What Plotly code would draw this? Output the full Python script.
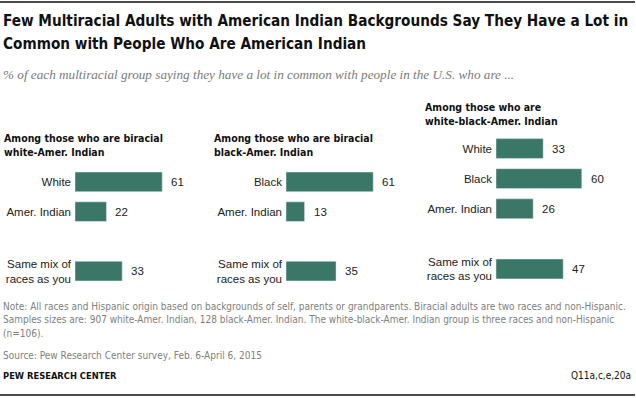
import plotly.graph_objects as go

# ---- data ----
panel_titles = [
    ["Among those who are biracial", "white-Amer. Indian"],
    ["Among those who are biracial", "black-Amer. Indian"],
    ["Among those who are", "white-black-Amer. Indian"],
]
cats_1 = ["White", "Amer. Indian", "Same mix of<br>races as you"]
vals_1 = [61, 22, 33]
cats_2 = ["Black", "Amer. Indian", "Same mix of<br>races as you"]
vals_2 = [61, 13, 35]
cats_3 = ["White", "Black", "Amer. Indian", "Same mix of<br>races as you"]
vals_3 = [33, 60, 26, 47]

title_lines = ["Few Multiracial Adults with American Indian Backgrounds Say They Have a Lot in",
               "Common with People Who Are American Indian"]
subtitle = "% of each multiracial group saying they have a lot in common with people in the U.S. who are ..."
note_lines = [
    "Note: All races and Hispanic origin based on backgrounds of self, parents or grandparents. "
    "Biracial adults are two races and non-Hispanic.",
    "Samples sizes are: 907 white-Amer. Indian, 128 black-Amer. Indian. The white-black-Amer. "
    "Indian group is three races and non-Hispanic",
    "(n=106).",
]
source = "Source: Pew Research Center survey, Feb. 6-April 6, 2015"
credit = "PEW RESEARCH CENTER"
code = "Q11a,c,e,20a"

# ---- layout constants ----
W, H = 635, 397
BAR = "#3a7767"
NARROW = "DejaVu Sans Condensed, sans-serif"
SANS = "Liberation Sans, Arial, sans-serif"
SERIF = "Liberation Serif, Georgia, serif"

def px_x(p):
    return p / W

def px_y(p):
    return 1 - p / H

# (cats, vals, bar x0, slot top, slot bottom, header x, header line-1 centre)
panels = [
    (cats_1, vals_1, 75, 167, 286, 2, 138),
    (cats_2, vals_2, 286, 167, 286, 212, 138),
    (cats_3, vals_3, 496, 133.5, 284, 423, 107.5),
]
XMAX = 70
SCALE = 1.43

fig = go.Figure()
annotations = []
for i, (cats, vals, x0, ytop, ybot, hx, hy) in enumerate(panels, start=1):
    order = cats[:-1] + [" " * i] + cats[-1:]
    xa = "x" if i == 1 else f"x{i}"
    ya = "y" if i == 1 else f"y{i}"
    fig.add_trace(go.Bar(
        x=vals, y=cats, orientation="h", marker_color=BAR, width=0.66,
        xaxis=xa, yaxis=ya, hoverinfo="skip", showlegend=False,
    ))
    xkey = "xaxis" if i == 1 else f"xaxis{i}"
    ykey = "yaxis" if i == 1 else f"yaxis{i}"
    fig.update_layout({
        xkey: dict(domain=[px_x(x0), px_x(x0 + XMAX * SCALE)], range=[0, XMAX],
                   visible=False, anchor=ya, fixedrange=True),
        ykey: dict(domain=[px_y(ybot), px_y(ytop)], anchor=xa,
                   type="category", categoryorder="array", categoryarray=order,
                   range=[len(order) - 0.5, -0.5], showgrid=False, zeroline=False,
                   showline=False, ticks="", ticklabelstandoff=3, fixedrange=True,
                   tickfont=dict(family=SANS, size=11.5, color="#222222")),
    })
    for c, v in zip(cats, vals):
        annotations.append(dict(x=v, y=c, xref=xa, yref=ya, text=str(v), showarrow=False,
                                xanchor="left", xshift=7,
                                font=dict(family=SANS, size=11.5, color="#222222")))
    for k, line in enumerate(panel_titles[i - 1]):
        annotations.append(dict(x=px_x(hx), y=px_y(hy + 14 * k), xref="paper", yref="paper",
                                text="<b>" + line + "</b>", showarrow=False,
                                xanchor="left", yanchor="middle", align="left",
                                font=dict(family=NARROW, size=10.5, color="#111111")))

for k, line in enumerate(title_lines):
    annotations.append(dict(x=px_x(1), y=px_y(21 + 23 * k), xref="paper", yref="paper",
                            text="<b>" + line + "</b>", showarrow=False,
                            xanchor="left", yanchor="middle", align="left",
                            font=dict(family=NARROW, size=15.2, color="#111111")))

annotations.append(dict(x=px_x(1), y=px_y(74), xref="paper", yref="paper",
                        text="<i>" + subtitle + "</i>", showarrow=False,
                        xanchor="left", yanchor="middle", align="left",
                        font=dict(family=SERIF, size=13.2, color="#7a7a7a")))

for k, line in enumerate(note_lines):
    annotations.append(dict(x=px_x(1), y=px_y(306 + 13.5 * k), xref="paper", yref="paper",
                            text=line, showarrow=False,
                            xanchor="left", yanchor="middle", align="left",
                            font=dict(family=NARROW, size=10, color="#808080")))

annotations += [
    dict(x=px_x(1), y=px_y(355), xref="paper", yref="paper", text=source,
         showarrow=False, xanchor="left", yanchor="middle", align="left",
         font=dict(family=NARROW, size=10, color="#808080")),
    dict(x=px_x(1), y=px_y(375), xref="paper", yref="paper", text="<b>" + credit + "</b>",
         showarrow=False, xanchor="left", yanchor="middle", align="left",
         font=dict(family=NARROW, size=9.3, color="#111111")),
    dict(x=px_x(633), y=px_y(375), xref="paper", yref="paper", text=code,
         showarrow=False, xanchor="right", yanchor="middle", align="right",
         font=dict(family=NARROW, size=10, color="#111111")),
]

shapes = [
    dict(type="line", xref="paper", yref="paper", x0=0, x1=1, y0=px_y(2), y1=px_y(2),
         line=dict(color="#111111", width=1.5)),
    dict(type="line", xref="paper", yref="paper", x0=0, x1=1, y0=px_y(395), y1=px_y(395),
         line=dict(color="#111111", width=1.5)),
]

fig.update_layout(
    width=W, height=H, margin=dict(l=0, r=0, t=0, b=0),
    paper_bgcolor="white", plot_bgcolor="rgba(0,0,0,0)",
    annotations=annotations, shapes=shapes,
)

fig.write_html(
    "out.html",
    config={"displayModeBar": False, "staticPlot": True},
    default_width=f"{W}px", default_height=f"{H}px",
    post_script=("var s=document.createElement('style');"
                 "s.textContent='html,body{margin:0;padding:0;overflow:hidden;background:#fff}';"
                 "document.head.appendChild(s);"),
)
